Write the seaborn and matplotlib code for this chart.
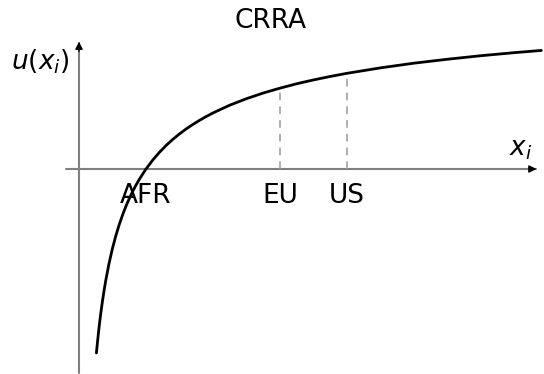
import numpy as np
import pandas as pd
import seaborn as sns
import matplotlib.pyplot as plt

# CRRA utility curve
x_vals = [0.26, 0.28, 0.30, 0.325, 0.35, 0.375, 0.40, 0.45, 0.50, 0.55, 0.60, 0.65,
          0.70, 0.75, 0.80, 0.85, 0.90, 1.00, 1.10, 1.20, 1.30, 1.40, 1.50, 1.60,
          1.70, 1.80, 1.90, 2.00, 2.25, 2.50, 2.75, 3.00, 3.25, 3.50, 3.75, 4.00,
          4.50, 5.00, 5.50, 6.00, 6.50, 6.90]
u_vals = [-1.922, -1.780, -1.651, -1.508, -1.381, -1.266, -1.162, -0.981, -0.828, -0.697,
          -0.582, -0.481, -0.390, -0.309, -0.236, -0.169, -0.108, 0.000, 0.093, 0.174,
          0.246, 0.310, 0.367, 0.419, 0.466, 0.509, 0.549, 0.586, 0.667, 0.735, 0.794,
          0.845, 0.891, 0.931, 0.967, 1.000, 1.057, 1.106, 1.147, 1.184, 1.216, 1.239]

# Regions marked on the x axis
regions = ["AFR", "EU", "US"]
region_x = [1.0, 3.0, 4.0]
region_u = [0.000, 0.845, 1.000]

df = pd.DataFrame({"x": x_vals, "u": u_vals})

sns.set_style("white")
plt.rcParams["font.family"] = ["DejaVu Sans"]
plt.rcParams["mathtext.fontset"] = "dejavusans"
plt.rcParams["text.color"] = "black"

fig = plt.figure(figsize=(5.44, 3.74), dpi=100)
ax = fig.add_axes([0, 0, 1, 1])
ax.set_xlim(-1.179, 6.94)
ax.set_ylim(-2.142, 1.766)
ax.axis("off")

# Axes: gray lines with small black arrow heads
axis_col = "#808080"
ax.plot([-0.2, 6.82], [0, 0], color=axis_col, lw=1.5)
ax.plot([0, 0], [-2.13, 1.32], color=axis_col, lw=1.5)
head = dict(arrowstyle="-|>", mutation_scale=11, fc="black", ec="black", lw=1.0)
ax.annotate("", xy=(6.87, 0), xytext=(6.7, 0), arrowprops=head)
ax.annotate("", xy=(0, 1.36), xytext=(0, 1.2), arrowprops=head)

# Dashed guides at EU and US
for xv, uv in zip(region_x[1:], region_u[1:]):
    ax.plot([xv, xv], [0, uv], ls=(0, (5, 4)), color="#999999", lw=1.1)

sns.lineplot(data=df, x="x", y="u", ax=ax, color="black", lw=2.0, sort=False,
             solid_joinstyle="round")

for name, xv in zip(regions, region_x):
    ax.text(xv, -0.28, name, ha="center", va="center", fontsize=19, color="black")

fig.text(271 / 544, 1 - 21.5 / 374, "CRRA", ha="center", va="center", fontsize=19)
fig.text(40 / 544, 1 - 62 / 374, r"$u(x_i)$", ha="center", va="center", fontsize=19)
fig.text(521 / 544, 1 - 149 / 374, r"$x_i$", ha="center", va="center", fontsize=19)

fig.savefig("out.png", dpi=100)
